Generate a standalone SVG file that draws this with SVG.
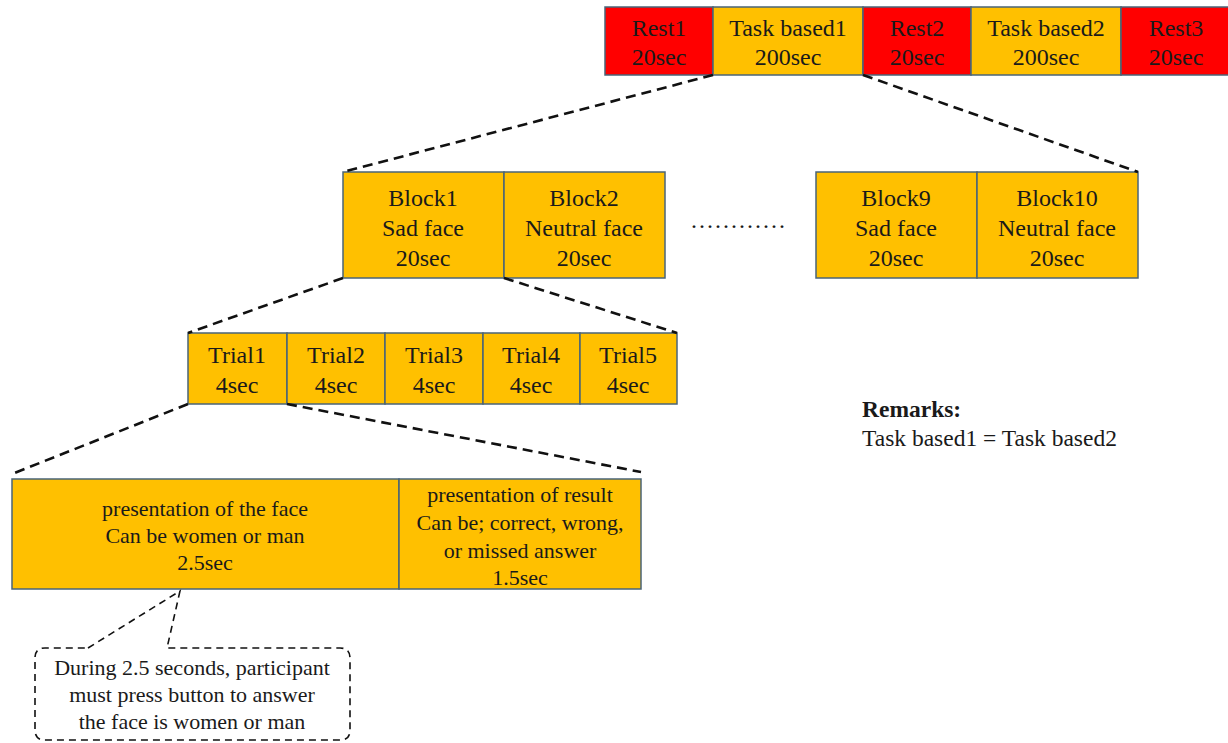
<svg xmlns="http://www.w3.org/2000/svg" width="1228" height="743" viewBox="0 0 1228 743">
  <style>
    .cell { stroke: #4a6478; stroke-width: 1.5; }
    .task { fill: #FFC000; }
    .rest { fill: #FF0000; }
    .t { font-family: "Liberation Serif", "Times New Roman", serif; fill: #1a1a1a; text-anchor: middle; }
    .big { font-size: 24px; }
    .small { font-size: 22px; }
    .note { font-size: 22px; }
    .rem { font-family: "Liberation Serif", "Times New Roman", serif; fill: #1a1a1a; font-size: 23.5px; }
    .zoom { fill: none; stroke: #111; stroke-width: 2.6; stroke-dasharray: 10 6; }
    .call { fill: none; stroke: #111; stroke-width: 1.6; stroke-dasharray: 7 5; }
  </style>
  <rect width="1228" height="743" fill="#ffffff"/>

  <!-- session timeline -->
  <g id="rest1"><rect class="cell rest" x="605" y="7" width="108" height="68"/>
    <text class="t big" x="659" y="36">Rest1</text><text class="t big" x="659" y="65">20sec</text></g>
  <g id="task1"><rect class="cell task" x="713" y="7" width="150" height="68"/>
    <text class="t big" x="788" y="36">Task based1</text><text class="t big" x="788" y="65">200sec</text></g>
  <g id="rest2"><rect class="cell rest" x="863" y="7" width="108" height="68"/>
    <text class="t big" x="917" y="36">Rest2</text><text class="t big" x="917" y="65">20sec</text></g>
  <g id="task2"><rect class="cell task" x="971" y="7" width="150" height="68"/>
    <text class="t big" x="1046" y="36">Task based2</text><text class="t big" x="1046" y="65">200sec</text></g>
  <g id="rest3"><rect class="cell rest" x="1121" y="7" width="112" height="68"/>
    <text class="t big" x="1176" y="36">Rest3</text><text class="t big" x="1176" y="65">20sec</text></g>

  <!-- blocks -->
  <g id="block1"><rect class="cell task" x="343" y="172" width="161" height="106"/>
    <text class="t big" x="423" y="206">Block1</text><text class="t big" x="423" y="236">Sad face</text><text class="t big" x="423" y="266">20sec</text></g>
  <g id="block2"><rect class="cell task" x="504" y="172" width="161" height="106"/>
    <text class="t big" x="584" y="206">Block2</text><text class="t big" x="584" y="236">Neutral face</text><text class="t big" x="584" y="266">20sec</text></g>
  <g id="ellipsis"><text class="t big" x="739" y="228" letter-spacing="2">............</text></g>
  <g id="block9"><rect class="cell task" x="816" y="172" width="161" height="106"/>
    <text class="t big" x="896" y="206">Block9</text><text class="t big" x="896" y="236">Sad face</text><text class="t big" x="896" y="266">20sec</text></g>
  <g id="block10"><rect class="cell task" x="977" y="172" width="161" height="106"/>
    <text class="t big" x="1057" y="206">Block10</text><text class="t big" x="1057" y="236">Neutral face</text><text class="t big" x="1057" y="266">20sec</text></g>

  <!-- trials -->
  <g id="trial1"><rect class="cell task" x="188" y="333" width="99" height="71"/>
    <text class="t big" x="237" y="363">Trial1</text><text class="t big" x="237" y="393">4sec</text></g>
  <g id="trial2"><rect class="cell task" x="287" y="333" width="98" height="71"/>
    <text class="t big" x="336" y="363">Trial2</text><text class="t big" x="336" y="393">4sec</text></g>
  <g id="trial3"><rect class="cell task" x="385" y="333" width="98" height="71"/>
    <text class="t big" x="434" y="363">Trial3</text><text class="t big" x="434" y="393">4sec</text></g>
  <g id="trial4"><rect class="cell task" x="483" y="333" width="97" height="71"/>
    <text class="t big" x="531" y="363">Trial4</text><text class="t big" x="531" y="393">4sec</text></g>
  <g id="trial5"><rect class="cell task" x="580" y="333" width="97" height="71"/>
    <text class="t big" x="628" y="363">Trial5</text><text class="t big" x="628" y="393">4sec</text></g>

  <!-- trial phases -->
  <g id="face"><rect class="cell task" x="12" y="479" width="387" height="110"/>
    <text class="t small" x="205" y="516">presentation of the face</text>
    <text class="t small" x="205" y="543">Can be women or man</text>
    <text class="t small" x="205" y="570">2.5sec</text></g>
  <g id="result"><rect class="cell task" x="399" y="479" width="242" height="110"/>
    <text class="t small" x="520" y="502">presentation of result</text>
    <text class="t small" x="520" y="530">Can be; correct, wrong,</text>
    <text class="t small" x="520" y="558">or missed answer</text>
    <text class="t small" x="520" y="585">1.5sec</text></g>

  <!-- callout note -->
  <g id="note">
    <path class="call" d="M88 648 L180 591 L167 648 L340 648 Q350 648 350 658 L350 730 Q350 740 340 740 L45 740 Q35 740 35 730 L35 658 Q35 648 45 648 Z"/>
    <text class="t note" x="192" y="675">During 2.5 seconds, participant</text>
    <text class="t note" x="192" y="702">must press button to answer</text>
    <text class="t note" x="192" y="729">the face is women or man</text>
  </g>

  <!-- remarks -->
  <g id="remarks">
    <text class="rem" x="862" y="417" font-weight="bold">Remarks:</text>
    <text class="rem" x="862" y="446">Task based1 = Task based2</text>
  </g>

  <!-- zoom connectors -->
  <g id="connectors">
    <line class="zoom" x1="713" y1="75" x2="343" y2="172"/>
    <line class="zoom" x1="863" y1="75" x2="1138" y2="172"/>
    <line class="zoom" x1="343" y1="278" x2="188" y2="333"/>
    <line class="zoom" x1="504" y1="278" x2="677" y2="333"/>
    <line class="zoom" x1="188" y1="404" x2="12" y2="474"/>
    <line class="zoom" x1="287" y1="404" x2="641" y2="472"/>
  </g>
</svg>
